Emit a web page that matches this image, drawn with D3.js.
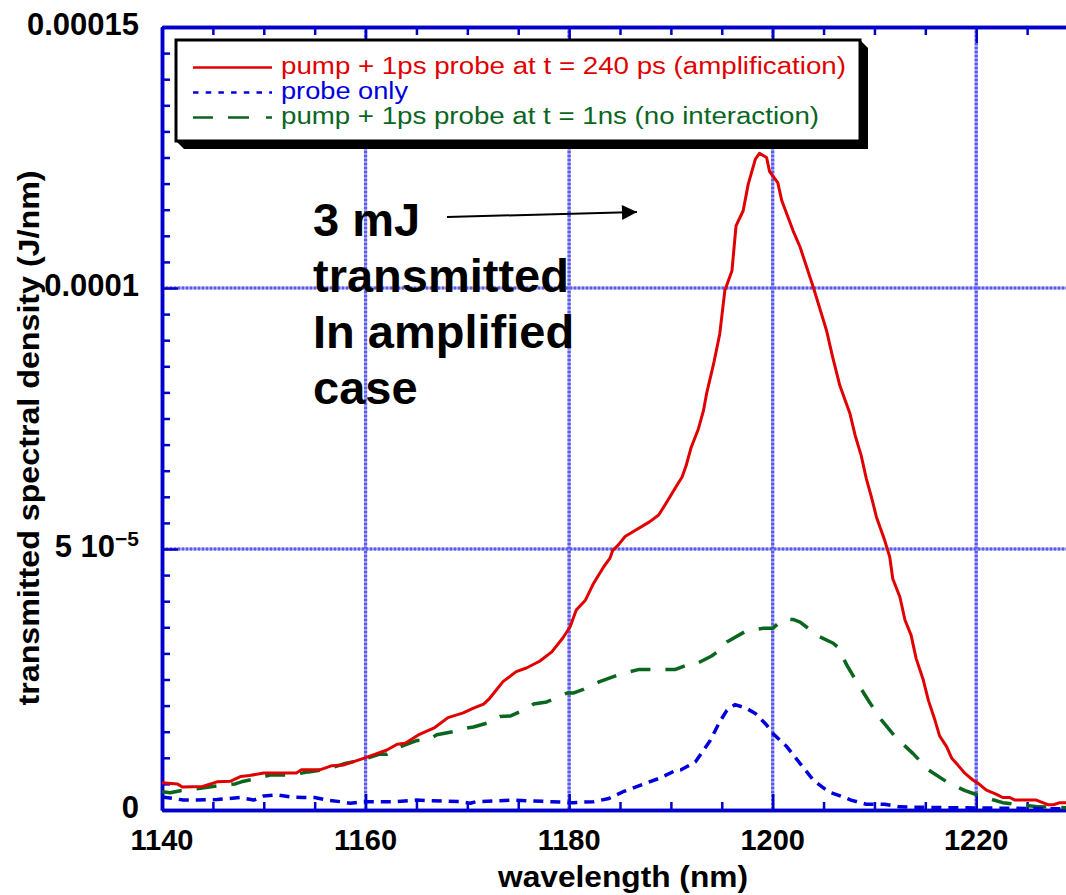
<!DOCTYPE html>
<html>
<head>
<meta charset="utf-8">
<script src="https://cdn.jsdelivr.net/npm/d3@7"></script>
<style>
  html, body { margin: 0; padding: 0; background: #fff; }
  svg { display: block; }
  text { font-family: Arial, "Liberation Sans", Helvetica, sans-serif; }
</style>
</head>
<body>
<svg id="chart" width="1066" height="895"></svg>
<script>
// ---- data: wavelength (nm) and transmitted spectral density (J/nm) ----
const amplifiedWl = [1140, 1141.5, 1142, 1144, 1145.4, 1146.7, 1147.7, 1148.6, 1150, 1153.2, 1153.7, 1155.5,
  1156.7, 1157.8, 1159.8, 1161.1, 1162.1, 1163.1, 1163.9, 1165.3, 1166.8, 1168.1, 1169.6, 1170.6, 1171.6,
  1172.2, 1173.5, 1174.8, 1175.8, 1177.1, 1178.3, 1179.4, 1180.1, 1180.7, 1181.6, 1182.4, 1183.4, 1184.0,
  1184.3, 1184.8, 1185.5, 1186.6, 1187.9, 1188.8, 1189.6, 1190.4, 1191.1, 1191.5, 1192.0, 1192.7, 1193.2,
  1193.5, 1194.2, 1194.8, 1195.3, 1196.0, 1196.4, 1197.1, 1197.6, 1198.3, 1198.7, 1199.4, 1199.7, 1200.5,
  1200.9, 1202.0, 1202.7, 1204.0, 1205.3, 1205.9, 1206.6, 1207.6, 1208.1, 1208.7, 1209.2, 1209.7, 1210.2,
  1211.0, 1211.5, 1211.8, 1212.5, 1213.0, 1213.6, 1214.1, 1214.8, 1215.3, 1215.9, 1216.4, 1217.1, 1217.6,
  1218.2, 1218.9, 1219.7, 1220.2, 1221.0, 1222.0, 1222.6, 1223.3, 1223.8, 1225.9, 1227.1, 1227.6, 1228.2, 1229.0];
const amplifiedDensity = [0.52e-5, 0.50e-5, 0.44e-5, 0.45e-5, 0.54e-5, 0.55e-5, 0.64e-5, 0.66e-5, 0.71e-5, 0.71e-5,
  0.77e-5, 0.77e-5, 0.85e-5, 0.86e-5, 0.99e-5, 1.08e-5, 1.15e-5, 1.26e-5, 1.28e-5, 1.45e-5, 1.58e-5, 1.77e-5,
  1.86e-5, 1.95e-5, 2.03e-5, 2.14e-5, 2.46e-5, 2.65e-5, 2.72e-5, 2.85e-5, 3.03e-5, 3.30e-5, 3.51e-5, 3.83e-5,
  4.02e-5, 4.34e-5, 4.66e-5, 4.82e-5, 4.98e-5, 5.07e-5, 5.24e-5, 5.37e-5, 5.52e-5, 5.65e-5, 5.90e-5, 6.16e-5,
  6.38e-5, 6.60e-5, 6.95e-5, 7.30e-5, 7.65e-5, 7.97e-5, 8.55e-5, 9.12e-5, 9.95e-5, 10.33e-5, 11.19e-5, 11.48e-5,
  11.99e-5, 12.47e-5, 12.58e-5, 12.50e-5, 12.23e-5, 12.02e-5, 11.67e-5, 11.10e-5, 10.78e-5, 10.01e-5, 9.18e-5,
  8.67e-5, 8.13e-5, 7.59e-5, 7.18e-5, 6.79e-5, 6.35e-5, 6.00e-5, 5.61e-5, 5.17e-5, 4.85e-5, 4.43e-5, 4.08e-5,
  3.64e-5, 3.35e-5, 2.90e-5, 2.49e-5, 2.10e-5, 1.75e-5, 1.42e-5, 1.21e-5, 0.99e-5, 0.86e-5, 0.70e-5, 0.57e-5,
  0.51e-5, 0.38e-5, 0.30e-5, 0.24e-5, 0.24e-5, 0.19e-5, 0.19e-5, 0.10e-5, 0.10e-5, 0.14e-5, 0.14e-5];

const probeWl = [1140, 1141.1, 1142.1, 1143.4, 1145.4, 1147.7, 1149.0, 1150.0, 1151.3, 1152.6, 1153.9, 1155.0,
  1156.2, 1157.5, 1158.5, 1159.8, 1163.1, 1165.0, 1169.3, 1170.3, 1170.9, 1174.5, 1178.1, 1180.4, 1182.4,
  1183.9, 1185.3, 1187.1, 1188.9, 1190.6, 1191.0, 1192.4, 1193.8, 1194.8, 1195.5, 1196.3, 1197.4, 1198.3,
  1199.4, 1200.0, 1201.4, 1202.7, 1204.0, 1205.5, 1206.9, 1207.7, 1209.2, 1211.0, 1212.5, 1215.0, 1220.0,
  1225.0, 1229.0];
const probeDensity = [0.25e-5, 0.22e-5, 0.19e-5, 0.19e-5, 0.20e-5, 0.24e-5, 0.19e-5, 0.27e-5, 0.29e-5, 0.25e-5,
  0.24e-5, 0.24e-5, 0.19e-5, 0.16e-5, 0.13e-5, 0.16e-5, 0.16e-5, 0.19e-5, 0.16e-5, 0.13e-5, 0.16e-5, 0.19e-5,
  0.16e-5, 0.14e-5, 0.16e-5, 0.22e-5, 0.35e-5, 0.48e-5, 0.61e-5, 0.77e-5, 0.77e-5, 0.92e-5, 1.31e-5, 1.69e-5,
  1.91e-5, 2.02e-5, 1.95e-5, 1.85e-5, 1.63e-5, 1.47e-5, 1.21e-5, 0.89e-5, 0.57e-5, 0.35e-5, 0.25e-5, 0.19e-5,
  0.11e-5, 0.11e-5, 0.06e-5, 0.05e-5, 0.04e-5, 0.03e-5, 0.02e-5];

const noInteractionWl = [1140, 1140.8, 1141.8, 1143.6, 1145.4, 1147.2, 1147.8, 1149.0, 1150.6, 1152.6, 1154.4,
  1156.2, 1158.0, 1159.8, 1161.4, 1162.1, 1163.4, 1165.0, 1166.0, 1167.0, 1168.8, 1169.6, 1170.6, 1172.4,
  1173.2, 1174.2, 1176.0, 1176.5, 1177.8, 1179.8, 1180.4, 1181.4, 1183.0, 1185.0, 1186.8, 1188.6, 1190.4,
  1191.5, 1192.2, 1194.0, 1194.8, 1195.5, 1197.4, 1199.1, 1200.0, 1201.0, 1202.0, 1202.7, 1204.5, 1205.9,
  1206.4, 1207.3, 1208.4, 1209.5, 1210.7, 1212.2, 1213.8, 1215.3, 1217.1, 1218.9, 1220.7, 1222.6, 1224.3,
  1226.2, 1227.9, 1229.0];
const noInteractionDensity = [0.35e-5, 0.33e-5, 0.37e-5, 0.41e-5, 0.46e-5, 0.50e-5, 0.54e-5, 0.59e-5, 0.67e-5,
  0.67e-5, 0.73e-5, 0.78e-5, 0.89e-5, 0.97e-5, 1.07e-5, 1.07e-5, 1.21e-5, 1.33e-5, 1.33e-5, 1.44e-5, 1.51e-5,
  1.56e-5, 1.59e-5, 1.69e-5, 1.79e-5, 1.80e-5, 1.95e-5, 2.03e-5, 2.07e-5, 2.24e-5, 2.24e-5, 2.31e-5, 2.46e-5,
  2.60e-5, 2.69e-5, 2.69e-5, 2.69e-5, 2.77e-5, 2.77e-5, 2.95e-5, 3.06e-5, 3.22e-5, 3.43e-5, 3.48e-5, 3.48e-5,
  3.65e-5, 3.65e-5, 3.60e-5, 3.33e-5, 3.20e-5, 3.12e-5, 2.77e-5, 2.41e-5, 2.07e-5, 1.72e-5, 1.37e-5, 1.08e-5,
  0.77e-5, 0.54e-5, 0.37e-5, 0.25e-5, 0.14e-5, 0.10e-5, 0.06e-5, 0.05e-5, 0.04e-5];

// axis ticks
const xMajorTicks = [1140, 1160, 1180, 1200, 1220];
const xTickLabels = ["1140", "1160", "1180", "1200", "1220"];
const yMajorTicks = [0, 5e-5, 1e-4, 1.5e-4];
const yTickLabels = ["0", "5 10|\u22125", "0.0001", "0.00015"];   // "|" separates a superscript exponent

// legend entries
const legendLabels = [
  "pump + 1ps probe at t = 240 ps (amplification)",
  "probe only",
  "pump + 1ps probe at t = 1ns (no interaction)"
];
const annotationLines = ["3 mJ", "transmitted", "In amplified", "case"];

// ---- layout ----
const svg = d3.select("#chart");
const plotLeft = 162, plotRight = 1078, plotTop = 27, plotBottom = 810;

const x = d3.scaleLinear().domain([1140, 1230]).range([plotLeft, plotRight]);
const y = d3.scaleLinear().domain([0, 1.5e-4]).range([plotBottom, plotTop]);

const axisBlue = "#0000cc";

const series = [
  { wl: amplifiedWl, v: amplifiedDensity, color: "#e00000", width: 3, dash: null,
    legendDash: null, label: legendLabels[0], labelLen: 565 },
  { wl: probeWl, v: probeDensity, color: "#0000dd", width: 3.5, dash: "10,7",
    legendDash: "5.5,7.2", label: legendLabels[1], labelLen: 127 },
  { wl: noInteractionWl, v: noInteractionDensity, color: "#0a661e", width: 3.5, dash: "20,15",
    legendDash: "20,15,21,17,6,40", label: legendLabels[2], labelLen: 538 }
];

// ---- gridlines (dotted light blue) ----
const grid = svg.append("g");
const gridX = xMajorTicks.filter(d => d > 1140);
const gridY = yMajorTicks.filter(d => d > 0 && d < 1.5e-4);
[["#9c9cf4", null], ["#5c5cec", "2,2"]].forEach(([c, da]) => {
  grid.selectAll(null).data(gridX).enter().append("line")
    .attr("x1", d => x(d)).attr("x2", d => x(d)).attr("y1", plotTop).attr("y2", plotBottom)
    .attr("stroke", c).attr("stroke-width", 3.2).attr("stroke-dasharray", da);
  grid.selectAll(null).data(gridY).enter().append("line")
    .attr("x1", plotLeft).attr("x2", plotRight).attr("y1", d => y(d)).attr("y2", d => y(d))
    .attr("stroke", c).attr("stroke-width", 3.2).attr("stroke-dasharray", da);
});

// ---- axes with inward ticks ----
const xMinor = d3.range(1145, 1230, 5).filter(d => !xMajorTicks.includes(d));
const yMinor = d3.range(1, 30).map(i => i * 5e-6).filter(d => !yMajorTicks.some(m => Math.abs(m - d) < 1e-9));

const bottomAxis = d3.axisBottom(x).tickValues(xMajorTicks).tickSizeInner(-16).tickSizeOuter(0).tickFormat("");
const bottomMinor = d3.axisBottom(x).tickValues(xMinor).tickSizeInner(-8).tickSizeOuter(0).tickFormat("");
const topAxis = d3.axisTop(x).tickValues(xMajorTicks).tickSizeInner(-16).tickSizeOuter(0).tickFormat("");
const topMinor = d3.axisTop(x).tickValues(xMinor).tickSizeInner(-8).tickSizeOuter(0).tickFormat("");
const leftAxis = d3.axisLeft(y).tickValues(yMajorTicks).tickSizeInner(-16).tickSizeOuter(0).tickFormat("");
const leftMinor = d3.axisLeft(y).tickValues(yMinor).tickSizeInner(-8).tickSizeOuter(0).tickFormat("");

function styleAxis(g) {
  g.selectAll("path.domain").attr("stroke", axisBlue).attr("stroke-width", 3.5);
  g.selectAll(".tick line").attr("stroke", axisBlue).attr("stroke-width", 2.5);
}
svg.append("g").attr("transform", `translate(0,${plotBottom})`).call(bottomMinor).call(styleAxis);
svg.append("g").attr("transform", `translate(0,${plotBottom})`).call(bottomAxis).call(styleAxis);
svg.append("g").attr("transform", `translate(0,${plotTop})`).call(topMinor).call(styleAxis);
svg.append("g").attr("transform", `translate(0,${plotTop})`).call(topAxis).call(styleAxis);
svg.append("g").attr("transform", `translate(${plotLeft},0)`).call(leftMinor).call(styleAxis);
svg.append("g").attr("transform", `translate(${plotLeft},0)`).call(leftAxis).call(styleAxis);

// ---- tick labels ----
svg.append("g").selectAll("text").data(xMajorTicks).enter().append("text")
  .attr("x", d => x(d)).attr("y", 850)
  .attr("text-anchor", "middle").attr("font-size", 29).attr("font-weight", "bold")
  .text((d, i) => xTickLabels[i]);

const yLab = svg.append("g").selectAll("text").data(yMajorTicks).enter().append("text")
  .attr("x", 139).attr("y", d => y(d) + 7.5)
  .attr("text-anchor", "end").attr("font-size", 31).attr("font-weight", "bold");
yLab.each(function (d, i) {
  const parts = yTickLabels[i].split("|");
  const t = d3.select(this);
  t.append("tspan").text(parts[0]);
  if (parts[1]) t.append("tspan").attr("font-size", 21).attr("dy", -11).text(parts[1]);
});

// ---- axis titles ----
svg.append("text").attr("x", 623).attr("y", 887)
  .attr("text-anchor", "middle").attr("font-size", 30).attr("font-weight", "bold")
  .attr("textLength", 250).attr("lengthAdjust", "spacingAndGlyphs")
  .text("wavelength (nm)");
svg.append("text").attr("transform", "translate(39,438) rotate(-90)")
  .attr("text-anchor", "middle").attr("font-size", 29).attr("font-weight", "bold")
  .attr("textLength", 535).attr("lengthAdjust", "spacingAndGlyphs")
  .text("transmitted spectral density (J/nm)");

// ---- curves ----
const line = d3.line().x(d => x(d[0])).y(d => y(d[1]));
const plot = svg.append("g");
series.slice().reverse().forEach(s => {
  plot.append("path")
    .datum(d3.zip(s.wl, s.v))
    .attr("d", line)
    .attr("fill", "none")
    .attr("stroke", s.color)
    .attr("stroke-width", s.width)
    .attr("stroke-linejoin", "round")
    .attr("stroke-dasharray", s.dash);
});

// ---- annotation ----
const ann = svg.append("g");
annotationLines.forEach((t, i) => {
  ann.append("text").attr("x", 313).attr("y", 236 + i * 56)
    .attr("font-size", 47).attr("font-weight", "bold").text(t);
});
svg.append("defs").append("marker")
  .attr("id", "arrowHead").attr("viewBox", "0 0 10 10")
  .attr("refX", 10).attr("refY", 5)
  .attr("markerWidth", 17).attr("markerHeight", 15).attr("markerUnits", "userSpaceOnUse")
  .attr("orient", "auto")
  .append("path").attr("d", "M0,0 L10,5 L0,10 Z").attr("fill", "#000");
ann.append("line").attr("x1", 447).attr("y1", 217).attr("x2", 637).attr("y2", 212)
  .attr("stroke", "#000").attr("stroke-width", 2).attr("marker-end", "url(#arrowHead)");

// ---- legend ----
const lg = svg.append("g");
const bx0 = 176, by0 = 40, bx1 = 860, by1 = 141, sh = 8;
lg.append("polygon")
  .attr("points", [[bx0, by1], [bx0 + sh, by1 + sh], [bx1 + sh, by1 + sh], [bx1 + sh, by0 + sh], [bx1, by0]].join(" "))
  .attr("fill", "#000");
lg.append("rect").attr("x", bx0).attr("y", by0).attr("width", bx1 - bx0).attr("height", by1 - by0)
  .attr("fill", "#fff").attr("stroke", "#000").attr("stroke-width", 3);
series.forEach((s, i) => {
  const ly = 67.5 + i * 25;
  lg.append("line").attr("x1", 193).attr("x2", 272).attr("y1", ly).attr("y2", ly)
    .attr("stroke", s.color).attr("stroke-width", 2.5).attr("stroke-dasharray", s.legendDash);
  lg.append("text").attr("x", 281).attr("y", ly + 6).attr("font-size", 23).attr("fill", s.color)
    .attr("textLength", s.labelLen).attr("lengthAdjust", "spacingAndGlyphs").text(s.label);
});
</script>
</body>
</html>
